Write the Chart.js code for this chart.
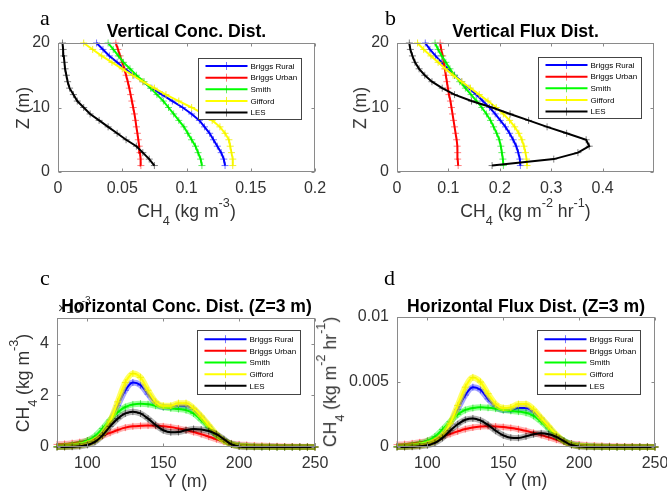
<!DOCTYPE html>
<html>
<head>
<meta charset="utf-8">
<script src="https://cdn.jsdelivr.net/npm/chart.js@4.4.1/dist/chart.umd.min.js"></script>
<style>
html,body{margin:0;padding:0;background:#fff;overflow:hidden;width:667px;height:501px;position:relative;}
canvas{position:absolute;}
.t{position:absolute;white-space:nowrap;line-height:1;transform-origin:0 0;}
.sb{position:relative;top:0.6em;font-size:0.72em;}
.sp{position:relative;top:-0.85em;font-size:0.72em;}
</style>
</head>
<body>
<script>
// ---------------- data ----------------
const seriesNames = ['Briggs Rural', 'Briggs Urban', 'Smith', 'Gifford', 'LES'];

// Vertical profiles: height Z (m)
const zHeights = [1,2,3,4,5,6,7,8,9,10,11,12,13,14,15,16,17,18,19,20];

// (a) Vertical concentration, CH4 (kg m-3)
const vConcBriggsRural = [0.130,0.129,0.127,0.124,0.121,0.118,0.114,0.110,0.104,0.097,0.089,0.081,0.073,0.066,0.059,0.052,0.046,0.040,0.035,0.030];
const vConcBriggsUrban = [0.0645,0.0643,0.0638,0.0632,0.0625,0.0618,0.061,0.0603,0.0595,0.0585,0.0575,0.0565,0.0555,0.0543,0.053,0.0515,0.050,0.0483,0.0467,0.045];
const vConcSmith       = [0.112,0.111,0.109,0.107,0.104,0.101,0.098,0.094,0.090,0.086,0.082,0.077,0.072,0.067,0.061,0.056,0.051,0.047,0.043,0.039];
const vConcGifford     = [0.136,0.136,0.135,0.134,0.133,0.130,0.126,0.120,0.113,0.104,0.094,0.084,0.075,0.066,0.058,0.050,0.042,0.034,0.027,0.020];
const vConcLES         = [0.075,0.071,0.066,0.061,0.053,0.046,0.039,0.032,0.025,0.020,0.015,0.012,0.009,0.0075,0.0065,0.0055,0.005,0.0045,0.004,0.0035];

// (b) Vertical flux, CH4 (kg m-2 hr-1)
const vFluxBriggsRural = [0.240,0.239,0.236,0.232,0.226,0.219,0.211,0.201,0.191,0.180,0.167,0.154,0.140,0.126,0.112,0.099,0.087,0.075,0.064,0.055];
const vFluxBriggsUrban = [0.119,0.118,0.118,0.117,0.116,0.114,0.112,0.110,0.108,0.106,0.104,0.101,0.099,0.097,0.095,0.093,0.091,0.089,0.086,0.084];
const vFluxSmith       = [0.207,0.206,0.204,0.202,0.199,0.194,0.188,0.182,0.174,0.165,0.155,0.144,0.133,0.122,0.112,0.103,0.095,0.087,0.080,0.074];
const vFluxGifford     = [0.253,0.252,0.250,0.247,0.243,0.237,0.229,0.219,0.207,0.193,0.177,0.160,0.143,0.126,0.109,0.094,0.080,0.066,0.052,0.040];
const vFluxLES         = [0.185,0.305,0.352,0.374,0.368,0.330,0.292,0.256,0.220,0.185,0.145,0.112,0.088,0.068,0.054,0.043,0.035,0.030,0.026,0.024];

// Horizontal profiles at Z = 3 m: distance Y (m)
const yDistance = [80,85,90,95,100,105,110,115,120,125,130,135,140,145,150,155,160,165,170,175,180,185,190,195,200,205,210,215,220,225,230,235,240,245,250];

// (c) Horizontal concentration, CH4 (x10^-3 kg m-3)
const hConcBriggsRural = [0,0.02,0.04,0.08,0.15,0.28,0.55,1.0,1.6,2.2,2.5,2.4,2.05,1.7,1.55,1.55,1.6,1.6,1.45,1.15,0.8,0.45,0.25,0.12,0.06,0.03,0.02,0.01,0.01,0,0,0,0,0,0];
const hConcBriggsUrban = [0.1,0.12,0.15,0.19,0.25,0.33,0.43,0.55,0.66,0.75,0.8,0.82,0.83,0.82,0.8,0.77,0.72,0.66,0.58,0.5,0.4,0.3,0.21,0.14,0.1,0.08,0.06,0.05,0.04,0.03,0.02,0.015,0.01,0.005,0];
const hConcSmith       = [0.02,0.04,0.08,0.14,0.25,0.42,0.72,1.05,1.35,1.55,1.65,1.68,1.66,1.6,1.55,1.5,1.47,1.43,1.3,1.05,0.75,0.45,0.25,0.12,0.06,0.04,0.02,0.01,0.01,0,0,0,0,0,0];
const hConcGifford     = [0,0.01,0.03,0.06,0.12,0.25,0.5,1.0,1.75,2.5,2.85,2.7,2.2,1.75,1.6,1.6,1.7,1.7,1.5,1.2,0.85,0.5,0.25,0.1,0.04,0.02,0.01,0.01,0,0,0,0,0,0,0];
const hConcLES         = [0,0,0.01,0.03,0.08,0.2,0.45,0.8,1.1,1.3,1.37,1.3,1.1,0.85,0.65,0.57,0.58,0.65,0.7,0.68,0.62,0.5,0.3,0.1,0.02,0,0,0,0,0,0,0,0,0,0];

// (d) Horizontal flux, CH4 (x10^-3 kg m-2 hr-1)
const hFluxBriggsRural = [0,0.03,0.07,0.14,0.27,0.5,1.0,1.8,2.9,4.0,4.6,4.4,3.7,3.1,2.85,2.85,3.0,3.0,2.7,2.15,1.5,0.85,0.45,0.22,0.1,0.05,0.03,0.02,0.01,0,0,0,0,0,0];
const hFluxBriggsUrban = [0.18,0.22,0.28,0.36,0.47,0.62,0.8,1.0,1.2,1.38,1.5,1.57,1.6,1.58,1.54,1.47,1.37,1.24,1.09,0.92,0.74,0.56,0.4,0.27,0.19,0.14,0.11,0.09,0.07,0.05,0.04,0.03,0.02,0.01,0];
const hFluxSmith       = [0.04,0.08,0.15,0.27,0.47,0.8,1.35,1.95,2.5,2.85,3.0,3.05,3.02,2.95,2.85,2.78,2.72,2.63,2.4,1.95,1.4,0.85,0.47,0.23,0.11,0.07,0.04,0.02,0.01,0,0,0,0,0,0];
const hFluxGifford     = [0,0.02,0.05,0.11,0.22,0.45,0.9,1.8,3.2,4.6,5.35,5.0,4.1,3.3,3.0,3.05,3.3,3.3,2.9,2.25,1.6,0.95,0.45,0.18,0.07,0.03,0.02,0.01,0,0,0,0,0,0,0];
const hFluxLES         = [0,0,0.02,0.05,0.13,0.32,0.7,1.25,1.75,2.1,2.2,2.05,1.7,1.25,0.9,0.72,0.7,0.82,0.98,1.05,0.98,0.78,0.45,0.15,0.03,0,0,0,0,0,0,0,0,0,0];

// tick values / labels
const zTicks = [0,10,20];
const zTickLabels = ['0','10','20'];
const concXTicks = [0,0.05,0.1,0.15,0.2];
const concXTickLabels = ['0','0.05','0.1','0.15','0.2'];
const fluxXTicks = [0,0.1,0.2,0.3,0.4];
const fluxXTickLabels = ['0','0.1','0.2','0.3','0.4'];
const yDistTicks = [100,150,200,250];
const yDistTickLabels = ['100','150','200','250'];
const hConcTicks = [0,2,4];
const hConcTickLabels = ['0','2','4'];
const hFluxTicks = [0,0.005,0.01];
const hFluxTickLabels = ['0','0.005','0.01'];

// ---------------- styles ----------------
const lineColors = ['#0000ff','#ff0000','#00ff00','#ffff00','#000000'];
const markerColors = ['rgba(0,0,255,0.55)','rgba(255,0,0,0.5)','rgba(0,220,0,0.6)','rgba(240,240,0,0.85)','rgba(0,0,0,0.5)'];
const haloColors = ['rgba(0,0,255,0.35)','rgba(255,0,0,0.3)','rgba(0,255,0,0.4)','rgba(255,255,0,0.6)','rgba(0,0,0,0.3)'];
const SANS = '"Liberation Sans", Arial, sans-serif';
const SERIF = '"Liberation Serif", "Times New Roman", serif';

// ---------------- plugins ----------------
const framePlugin = {
  id: 'matFrame',
  afterDatasetsDraw(chart) {
    const ctx = chart.ctx, ca = chart.chartArea;
    const xs = chart.scales.x, ys = chart.scales.y;
    const L = Math.round(ca.left) + 0.5, R = Math.round(ca.right) - 0.5;
    const T = Math.round(ca.top) + 0.5, B = Math.round(ca.bottom) - 0.5;
    ctx.save();
    ctx.strokeStyle = '#8a8a8a';
    ctx.lineWidth = 1;
    ctx.strokeRect(L, T, R - L, B - T);
    const tl = 3;
    ctx.beginPath();
    xs.ticks.forEach(t => {
      const px = Math.round(xs.getPixelForValue(t.value)) + 0.5;
      ctx.moveTo(px, B); ctx.lineTo(px, B - tl);
      ctx.moveTo(px, T); ctx.lineTo(px, T + tl);
    });
    ys.ticks.forEach(t => {
      const py = Math.round(ys.getPixelForValue(t.value)) + 0.5;
      ctx.moveTo(L, py); ctx.lineTo(L + tl, py);
      ctx.moveTo(R, py); ctx.lineTo(R - tl, py);
    });
    ctx.stroke();
    ctx.restore();
  }
};

const haloPlugin = {
  id: 'halo',
  beforeDatasetDraw(chart, args, opts) {
    if (!opts || !opts.enabled) return;
    const line = args.meta.dataset;
    if (!line || typeof line.path !== 'function') return;
    const ctx = chart.ctx, ca = chart.chartArea;
    ctx.save();
    ctx.beginPath();
    ctx.rect(ca.left, ca.top - 4, ca.right - ca.left, ca.bottom - ca.top + 8);
    ctx.clip();
    ctx.lineWidth = opts.width || 6;
    ctx.lineJoin = 'round';
    ctx.lineCap = 'round';
    ctx.strokeStyle = haloColors[args.index];
    ctx.beginPath();
    try { line.path(ctx); ctx.stroke(); } catch (e) {}
    ctx.restore();
  }
};

const legendPlugin = {
  id: 'matLegend',
  afterDraw(chart, args, opts) {
    const ctx = chart.ctx, ca = chart.chartArea;
    const w = 103, h = opts.h;
    const x0 = Math.round(ca.right - opts.right - w) + 0.5;
    const y0 = Math.round(ca.top + opts.top) + 0.5;
    ctx.save();
    ctx.fillStyle = '#ffffff';
    ctx.fillRect(x0, y0, w, h);
    ctx.strokeStyle = '#444';
    ctx.lineWidth = 1;
    ctx.strokeRect(x0, y0, w, h);
    chart.data.datasets.forEach((ds, i) => {
      const y = y0 + opts.first + i * 11.65;
      ctx.strokeStyle = ds.borderColor;
      ctx.lineWidth = 2;
      ctx.beginPath();
      ctx.moveTo(x0 + 7, y); ctx.lineTo(x0 + 49, y);
      ctx.stroke();
      ctx.strokeStyle = ds.pointBorderColor;
      ctx.lineWidth = 1;
      ctx.beginPath();
      ctx.moveTo(x0 + 28, y - 4); ctx.lineTo(x0 + 28, y + 4);
      ctx.stroke();
      ctx.fillStyle = '#000';
      ctx.font = '8px ' + SANS;
      ctx.textBaseline = 'middle';
      ctx.textAlign = 'left';
      ctx.fillText(ds.label, x0 + 52, y + 0.5);
    });
    ctx.restore();
  }
};

// ---------------- builders ----------------
function axisOpts(min, max, ticks, labels, isX, p) {
  return {
    type: 'linear',
    min: min, max: max,
    grid: { display: false, drawTicks: false },
    border: { display: false },
    ticks: {
      color: '#333',
      font: { family: SANS, size: 16 },
      padding: isX ? 7 : 8,
      autoSkip: false,
      maxRotation: 0,
      minRotation: 0,
      callback: (v, idx) => labels[idx]
    },
    afterBuildTicks: s => { s.ticks = ticks.map(v => ({ value: v })); },
    afterFit: s => {
      if (isX) { s.height = p.h - p.area.b; s.paddingLeft = 0; s.paddingRight = 0; }
      else { s.width = p.area.l; s.paddingTop = 0; s.paddingBottom = 0; }
    }
  };
}

function buildPanel(p) {
  const cv = document.createElement('canvas');
  cv.width = p.w; cv.height = p.h;
  cv.style.left = p.left + 'px'; cv.style.top = p.top + 'px';
  cv.style.width = p.w + 'px'; cv.style.height = p.h + 'px';
  document.body.appendChild(cv);
  const datasets = seriesNames.map((name, i) => {
    const vals = p.series[i];
    const data = p.vertical
      ? zHeights.map((z, k) => ({ x: vals[k], y: z }))
      : yDistance.map((yd, k) => ({ x: yd, y: vals[k] * p.scale }));
    return {
      label: name,
      data: data,
      borderColor: lineColors[i],
      borderWidth: 2,
      pointStyle: 'cross',
      pointRadius: 3.5,
      pointHoverRadius: 3.5,
      pointBorderWidth: 1,
      pointBorderColor: markerColors[i],
      pointBackgroundColor: markerColors[i],
      tension: 0,
      cubicInterpolationMode: p.vertical ? 'default' : 'monotone',
      fill: false,
      clip: 4,
      order: 4 - i
    };
  });
  new Chart(cv.getContext('2d'), {
    type: 'line',
    data: { datasets },
    options: {
      responsive: false,
      animation: false,
      devicePixelRatio: 1,
      events: [],
      layout: { padding: { left: 0, top: p.area.t, right: p.w - p.area.r, bottom: 0 } },
      plugins: {
        legend: { display: false },
        tooltip: { enabled: false },
        title: { display: false },
        matLegend: p.legend,
        halo: { enabled: !p.vertical, width: 6 }
      },
      scales: {
        x: axisOpts(p.xRange[0], p.xRange[1], p.xTicks, p.xLabels, true, p),
        y: axisOpts(p.yRange[0], p.yRange[1], p.yTicks, p.yLabels, false, p)
      }
    },
    plugins: [haloPlugin, framePlugin, legendPlugin]
  });
}

function place(html, x, y, o) {
  const fs = o.size;
  const asc = o.serif ? 0.8375 : 0.8465;
  const d = document.createElement('div');
  d.className = 't';
  d.innerHTML = html;
  d.style.left = x + 'px';
  d.style.top = y + 'px';
  d.style.fontSize = fs + 'px';
  d.style.fontFamily = o.serif ? SERIF : SANS;
  d.style.fontWeight = o.bold ? 'bold' : 'normal';
  d.style.color = o.color || '#000';
  const ax = o.align === 'left' ? '0px' : '-50%';
  d.style.transform = 'rotate(' + (o.rot || 0) + 'deg) translate(' + ax + ',' + (-asc * fs) + 'px)';
  document.body.appendChild(d);
}

// ---------------- panels ----------------
buildPanel({
  left: 0, top: 0, w: 333, h: 250, area: { l: 58, t: 43, r: 315, b: 172 },
  vertical: true,
  series: [vConcBriggsRural, vConcBriggsUrban, vConcSmith, vConcGifford, vConcLES],
  xRange: [0, 0.2], xTicks: concXTicks, xLabels: concXTickLabels,
  yRange: [0, 20], yTicks: zTicks, yLabels: zTickLabels,
  legend: { right: 14, top: 15, h: 61, first: 7.5 }
});
buildPanel({
  left: 333, top: 0, w: 334, h: 250, area: { l: 64, t: 43, r: 321, b: 172 },
  vertical: true,
  series: [vFluxBriggsRural, vFluxBriggsUrban, vFluxSmith, vFluxGifford, vFluxLES],
  xRange: [0, 0.5], xTicks: fluxXTicks, xLabels: fluxXTickLabels,
  yRange: [0, 20], yTicks: zTicks, yLabels: zTickLabels,
  legend: { right: 13, top: 14, h: 61, first: 7.5 }
});
buildPanel({
  left: 0, top: 250, w: 333, h: 251, area: { l: 57, t: 68, r: 315, b: 197 },
  vertical: false, scale: 1,
  series: [hConcBriggsRural, hConcBriggsUrban, hConcSmith, hConcGifford, hConcLES],
  xRange: [80, 250], xTicks: yDistTicks, xLabels: yDistTickLabels,
  yRange: [0, 5], yTicks: hConcTicks, yLabels: hConcTickLabels,
  legend: { right: 15, top: 12, h: 64, first: 8.7 }
});
buildPanel({
  left: 333, top: 250, w: 345, h: 251, area: { l: 64, t: 67, r: 322, b: 197 },
  vertical: false, scale: 0.001,
  series: [hFluxBriggsRural, hFluxBriggsUrban, hFluxSmith, hFluxGifford, hFluxLES],
  xRange: [80, 250], xTicks: yDistTicks, xLabels: yDistTickLabels,
  yRange: [0, 0.01], yTicks: hFluxTicks, yLabels: hFluxTickLabels,
  legend: { right: 15, top: 13, h: 64, first: 8.7 }
});

// ---------------- text ----------------
const LBL = '#333';
place('a', 40, 25, { size: 22, serif: true, align: 'left' });
place('b', 385, 25, { size: 22, serif: true, align: 'left' });
place('c', 40, 285, { size: 22, serif: true, align: 'left' });
place('d', 384, 285, { size: 22, serif: true, align: 'left' });

place('Vertical Conc. Dist.', 186.5, 38.3, { size: 17.6, bold: true });
place('Vertical Flux Dist.', 525.5, 38.3, { size: 17.6, bold: true });
place('\u00d710<span class="sp">-3</span>', 58, 313, { size: 14, align: 'left', color: LBL });
place('Horizontal Conc. Dist. (Z=3 m)', 186.5, 313.3, { size: 17.6, bold: true });
place('Horizontal Flux Dist. (Z=3 m)', 526, 313, { size: 17.6, bold: true });

place('CH<span class="sb">4</span> (kg m<span class="sp">-3</span>)', 186.5, 218.3, { size: 17.6, color: LBL });
place('CH<span class="sb">4</span> (kg m<span class="sp">-2</span> hr<span class="sp">-1</span>)', 525.5, 218.3, { size: 17.6, color: LBL });
place('Y (m)', 186, 488, { size: 17.6, color: LBL });
place('Y (m)', 526, 487, { size: 17.6, color: LBL });

place('Z (m)', 29.5, 107.5, { size: 17.6, rot: -90, color: LBL });
place('Z (m)', 366.5, 107.5, { size: 17.6, rot: -90, color: LBL });
place('CH<span class="sb">4</span> (kg m<span class="sp">-3</span>)', 29.5, 382.5, { size: 17.6, rot: -90, color: LBL });
place('CH<span class="sb">4</span> (kg m<span class="sp">-2</span> hr<span class="sp">-1</span>)', 337, 382, { size: 17.6, rot: -90, color: LBL });
</script>
</body>
</html>
